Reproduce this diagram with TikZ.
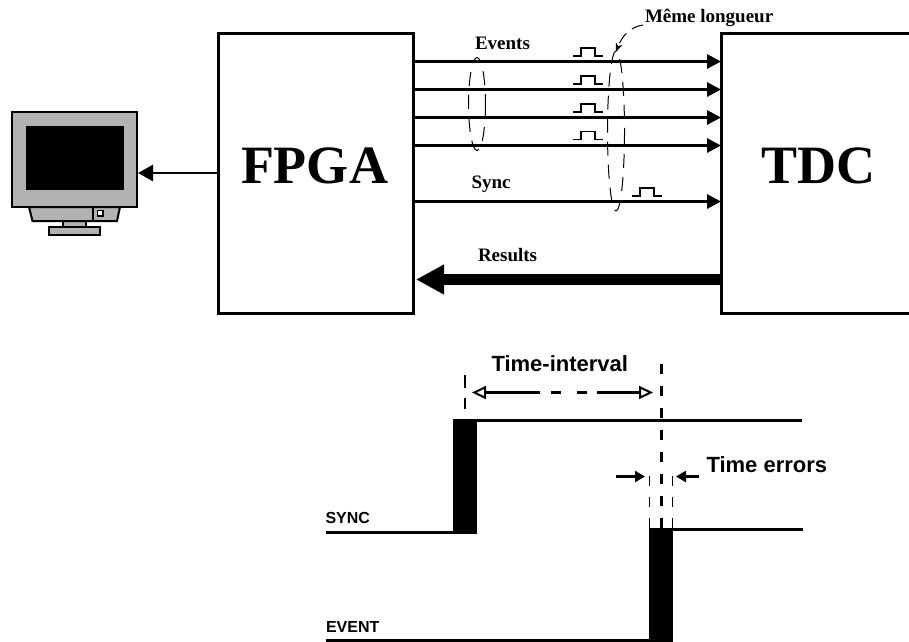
\documentclass[tikz,border=0pt]{standalone}
\usepackage{fontspec}
\setmainfont{Liberation Serif}
\newfontfamily\arialb{Liberation Sans}
\usetikzlibrary{arrows.meta}
\tikzset{
  x=1pt,y=-1pt,
  every node/.style={inner sep=0pt,outer sep=0pt,anchor=base west},
  bigtxt/.style={font=\fontsize{54}{54}\selectfont\bfseries},
  smalltxt/.style={font=\fontsize{19}{20}\selectfont\bfseries},
  sanslab/.style={font=\arialb\fontsize{22}{24}\selectfont\bfseries},
  tinysans/.style={font=\arialb\fontsize{16}{18}\selectfont\bfseries},
  wire/.style={line width=3pt,-{Triangle[length=14pt,width=14pt]}},
  pulse/.style={line width=1.3pt},
  loopdash/.style={line width=1pt,dash pattern=on 14pt off 9pt},
  signal/.style={line width=3pt},
  smallarrow/.style={line width=2.4pt,-{Triangle[length=10pt,width=11pt]}},
  openarrow/.style={line width=2.6pt,-{Triangle[open,length=14pt,width=13pt,line width=2pt]}},
}
\newcommand{\pulsemark}[2]{\draw[pulse] (#1,#2) -- ++(8,0) -- ++(0,-8) -- ++(14,0) -- ++(0,8) -- ++(8,0);}
\begin{document}
\begin{tikzpicture}
\useasboundingbox (0,0) rectangle (909,641);
% monitor
\begin{scope}[line width=2pt,draw=black]
\draw[fill=black!30] (49,226.5) rectangle (100,235);
\draw[fill=black!30] (63,221) rectangle (86,227);
\draw[fill=black!30] (29,207) -- (32.5,221) -- (117,221) -- (120,207) -- cycle;
\draw (93,207) -- (93,221);
\draw[fill=white,line width=1.4pt] (97.5,210.5) rectangle (103,216);
\draw[fill=black!30] (12,112) rectangle (137,206.5);
\fill[black] (26,126) rectangle (124,190);
\end{scope}
\coordinate (mon) at (138,173);
% blocks
\draw[line width=3pt] (218,33) rectangle (413,313);
\coordinate (fl) at (218,173);
\draw[line width=3pt] (912,33) -- (721,33) -- (721,313) -- (912,313);
\node[bigtxt] (fpga) at (241,183) {FPGA};
\node[bigtxt] (tdc) at (761,183) {TDC};
\draw[line width=2.6pt,-{Triangle[length=15pt,width=16pt]}] (fl) -- (mon);
% wires
\foreach \n/\yy in {a/61.5,b/89.5,c/117.5,d/145.5,e/201.5}{
  \coordinate (l\n) at (413,\yy);
  \coordinate (r\n) at (721,\yy);
  \draw[wire] (l\n) -- (r\n);
}
\coordinate (rr) at (721,279.5);
\coordinate (lr) at (416,279.5);
\draw[line width=11pt,-{Triangle[length=28pt,width=28pt,sep=0pt]}] (rr) -- (lr);
% pulses
\pulsemark{573}{56}
\pulsemark{573}{84}
\pulsemark{573}{112}
\pulsemark{573}{139.5}
\pulsemark{632}{196}
% loops
\draw[loopdash] (477,104) ellipse [x radius=8.5,y radius=46.5];
\draw[loopdash] (616,131) ellipse [x radius=8.5,y radius=80];
\draw[line width=1pt,-{Stealth[length=9pt,width=7pt]},dash pattern=on 12pt off 7pt] (643,25) .. controls (630,27) and (622,36) .. (616,52);
% labels
\node[smalltxt] (ev) at (475,49) {Events};
\node[smalltxt] (sy) at (471.5,188) {Sync};
\node[smalltxt] (re) at (478,261) {Results};
\node[smalltxt] (ml) at (645,22) {Même longueur};
% timing
\fill[black] (453,420) rectangle (477,533);
\draw[signal] (326,532) -- (477,532);
\draw[signal] (453,420) -- (802,420);
\fill[black] (649,528) rectangle (673,641);
\draw[signal] (326,640) -- (673,640);
\draw[signal] (649,529) -- (803,529);
\draw[line width=2.6pt,dash pattern=on 13pt off 10pt] (465,375) -- (465,409);
\draw[line width=3pt,dash pattern=on 10pt off 12pt] (661,363.5) -- (661,530);
\draw[line width=1pt,dash pattern=on 10pt off 11pt] (649,476) -- (649,529);
\draw[line width=1pt,dash pattern=on 10pt off 11pt] (672,476) -- (672,529);
\coordinate (tl) at (472,392.5);
\coordinate (tr) at (653,392.5);
\coordinate (tl2) at (540,392.5);
\coordinate (tr2) at (597,392.5);
\draw[openarrow] (tl2) -- (tl);
\draw[openarrow] (tr2) -- (tr);
\draw[line width=2.6pt,dash pattern=on 10pt off 16pt] (551,392.5) -- (tr2);
\draw[smallarrow] (616,476.5) -- (645,476.5);
\draw[smallarrow] (699,476.5) -- (676,476.5);
\node[sanslab] (ti) at (491.5,371) {Time-interval};
\node[sanslab] (te) at (706.5,472) {Time errors};
\node[tinysans] (sl) at (325.5,523) {SYNC};
\node[tinysans] (el) at (326,632) {EVENT};
\end{tikzpicture}
\end{document}
